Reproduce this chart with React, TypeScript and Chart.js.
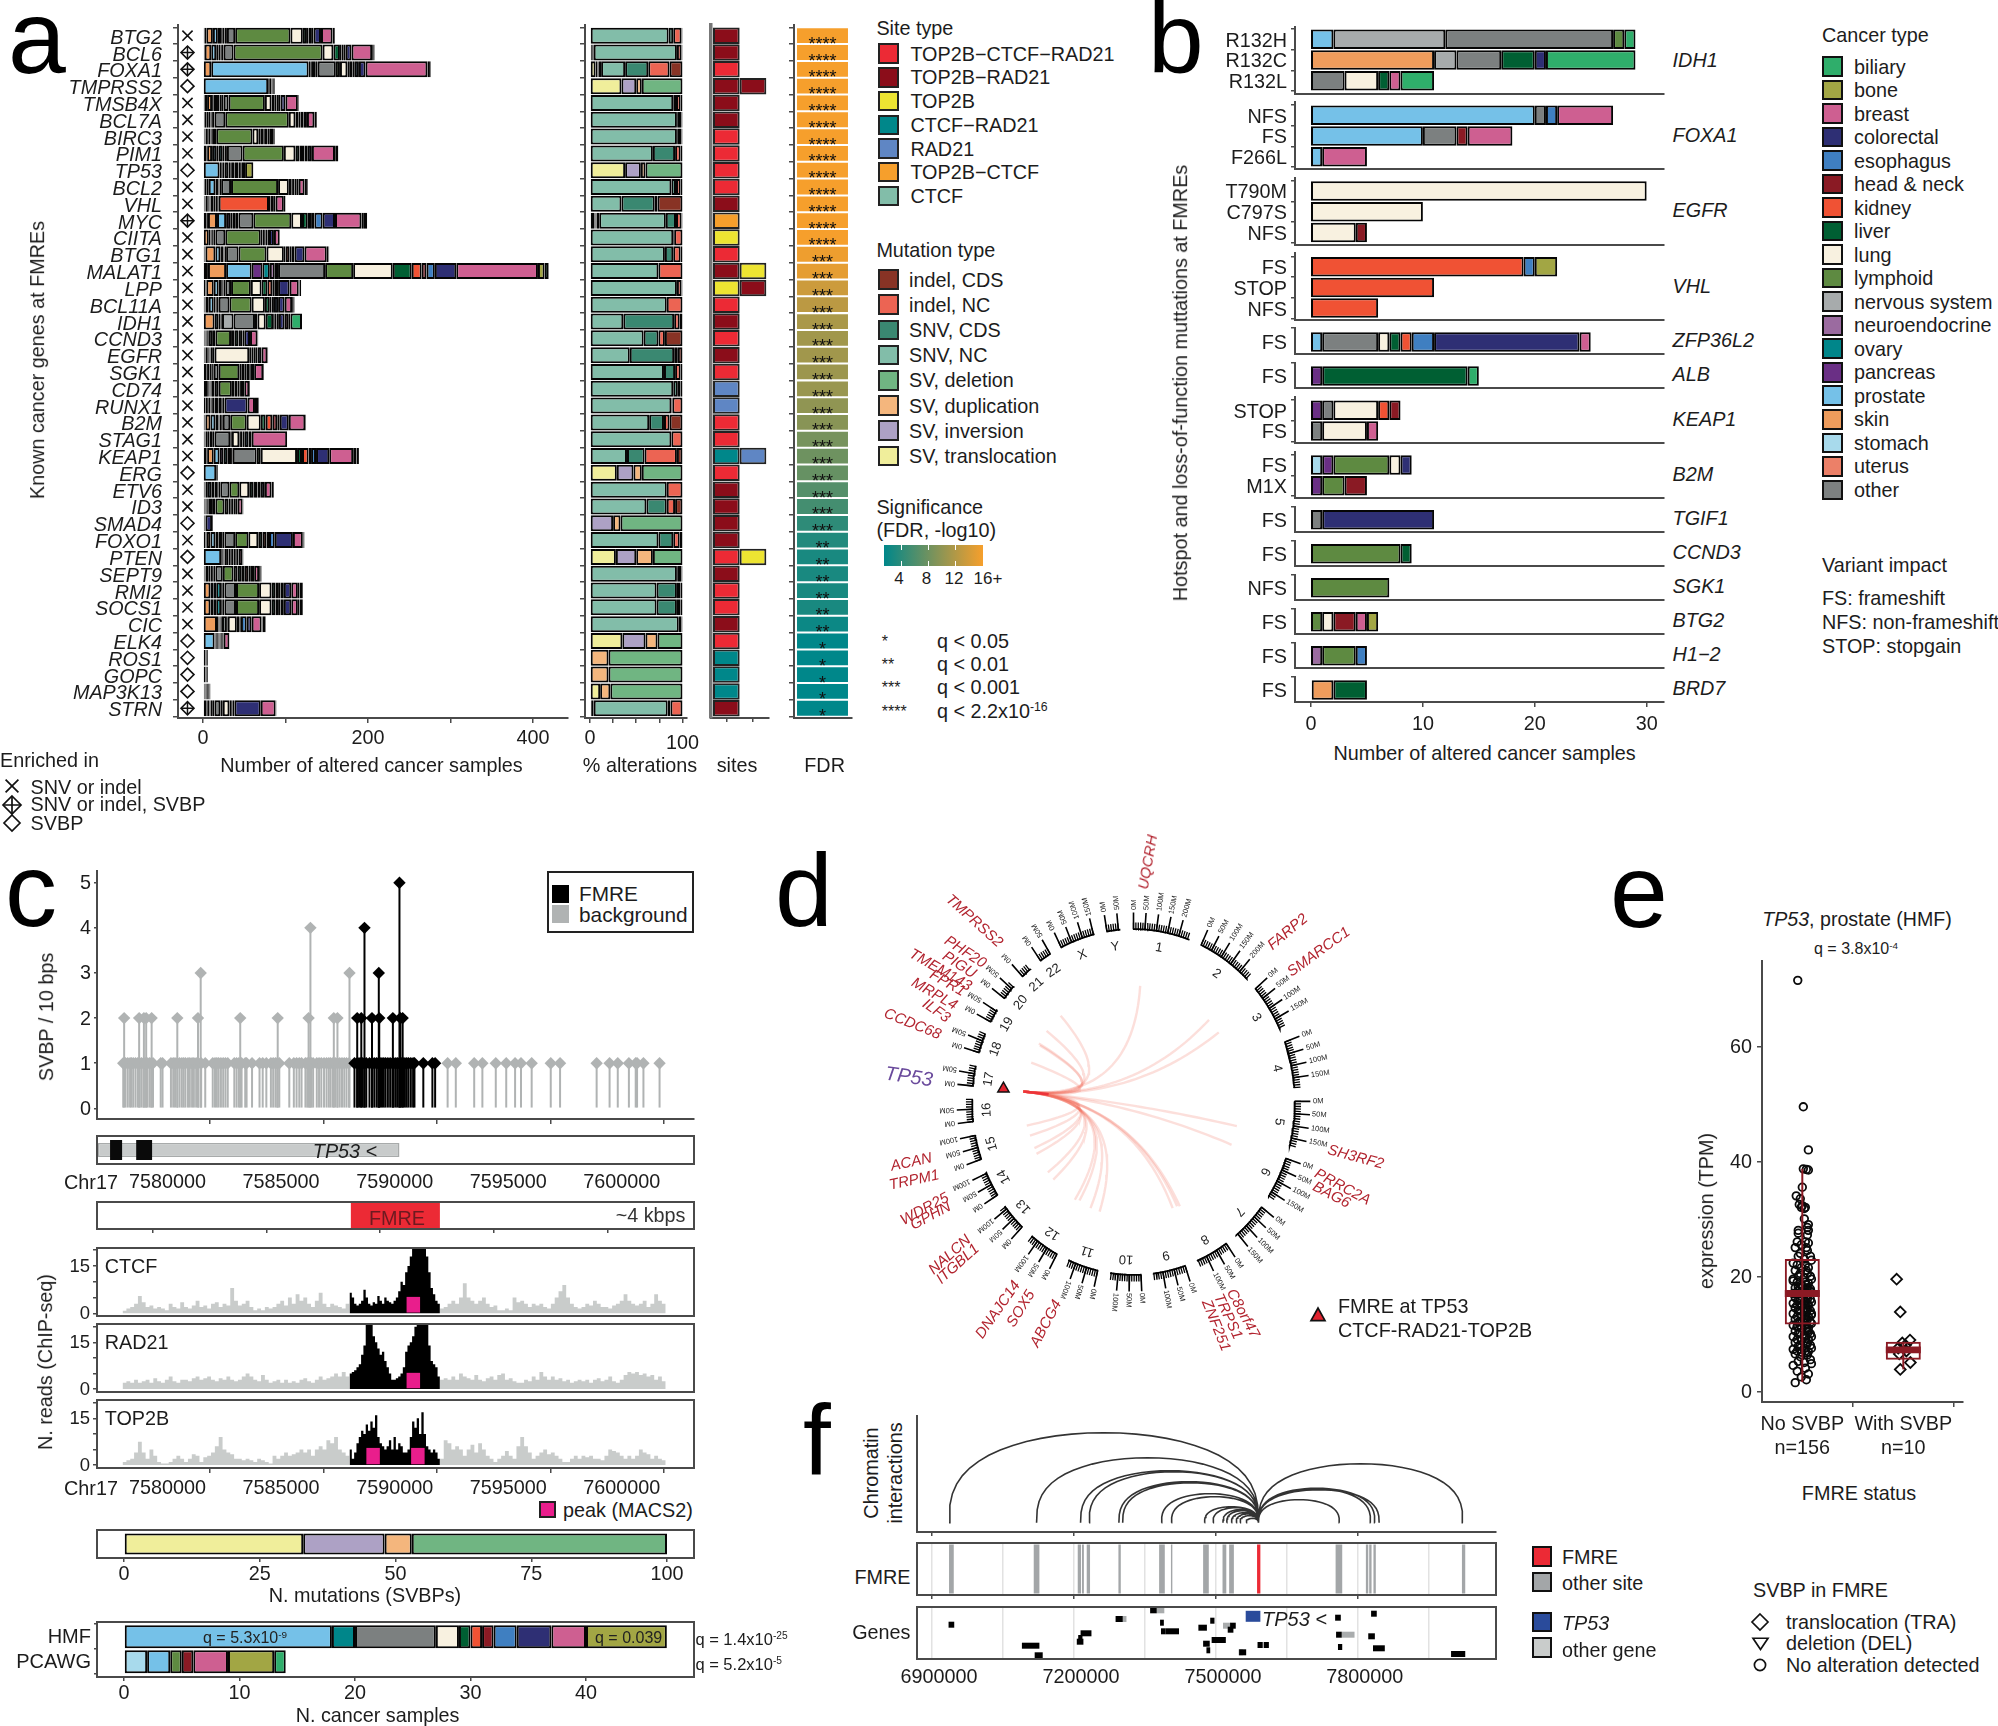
import React, { useEffect, useRef } from "react";
import { Chart, registerables } from "chart.js";
Chart.register(...registerables);

const FONT = "'Liberation Sans', Arial, sans-serif";
Chart.defaults.font.family = FONT;
const DARK = "#4a4a4a";
const INK = "#1c1c1c";

/* ---------- shared colours ---------- */
const cancerOrder = ["uterus","stomach","skin","prostate","pancreas","ovary","neuroendocrine","nervous system","other","lymphoid","lung","liver","kidney","head & neck","esophagus","colorectal","breast","bone","biliary"];
const cancerColor: Record<string,string> = {
  biliary:"#2FAE6B", bone:"#A2A644", breast:"#CE5F91", colorectal:"#2E2F74", esophagus:"#3F7FC1", "head & neck":"#8A1A24",
  kidney:"#F05234", liver:"#005F33", lung:"#F8F1E0", lymphoid:"#5E8A41", "nervous system":"#A7ABAC", neuroendocrine:"#9B6BA0",
  ovary:"#00868A", pancreas:"#6A2F85", prostate:"#75C1E8", skin:"#EE9C5C", stomach:"#A8DAEC", uterus:"#EC8068", other:"#7C8080",
};
const cancerLegend = ["biliary","bone","breast","colorectal","esophagus","head & neck","kidney","liver","lung","lymphoid","nervous system","neuroendocrine","ovary","pancreas","prostate","skin","stomach","uterus","other"];
const siteTypes = ["TOP2B−CTCF−RAD21","TOP2B−RAD21","TOP2B","CTCF−RAD21","RAD21","TOP2B−CTCF","CTCF"];
const siteColors = ["#EC2A35","#8B0D1A","#EDE432","#00878A","#5F86C4","#F69F2C","#82BDA9"];
const mutTypes = ["indel, CDS","indel, NC","SNV, CDS","SNV, NC","SV, deletion","SV, duplication","SV, inversion","SV, translocation"];
const mutColors = ["#883325","#EC6453","#3A8871","#82BDA9","#70B582","#F4B67D","#ADA1C5","#F0EE9B"];

/* ---------- panel a ---------- */
const genes = ["BTG2","BCL6","FOXA1","TMPRSS2","TMSB4X","BCL7A","BIRC3","PIM1","TP53","BCL2","VHL","MYC","CIITA","BTG1","MALAT1","LPP","BCL11A","IDH1","CCND3","EGFR","SGK1","CD74","RUNX1","B2M","STAG1","KEAP1","ERG","ETV6","ID3","SMAD4","FOXO1","PTEN","SEPT9","RMI2","SOCS1","CIC","ELK4","ROS1","GOPC","MAP3K13","STRN"];
const diamondGenes = ["TMPRSS2","TP53","ERG","SMAD4","PTEN","ELK4","ROS1","GOPC","MAP3K13"];
const bothGenes = ["BCL6","FOXA1","MYC","STRN"];
const alteredSamples = [
 [2,2,8,6,4,2,2,3,10,67,15,5,2,3,3,9,14,2,1],
 [1,1,8,6,3,2,1,3,12,108,13,8,2,2,3,7,25,2,1],
 [1,0,9,118,2,2,4,3,22,5,9,3,3,3,5,8,75,2,2],
 [0,0,0,79,0,0,0,0,2,2,1,0,0,0,1,1,1,0,0],
 [2,3,6,2,4,3,2,3,6,44,8,4,2,3,2,6,15,1,0],
 [1,1,2,3,2,1,1,3,13,77,8,4,2,2,2,4,9,2,1],
 [1,1,1,2,2,2,1,2,4,44,7,3,3,2,3,3,4,1,1],
 [4,1,6,5,3,5,2,3,19,50,14,5,3,3,4,5,28,1,3],
 [0,1,0,19,2,1,1,2,5,2,2,3,2,3,2,2,4,10,0],
 [2,2,3,8,2,2,1,2,12,57,13,3,2,2,2,3,7,3,1],
 [1,1,1,2,1,1,1,1,4,2,3,1,61,2,3,3,10,2,0],
 [4,2,11,11,5,3,3,4,18,46,13,7,4,4,10,15,32,3,4],
 [1,0,6,2,1,2,1,2,12,43,2,3,1,2,2,6,7,0,0],
 [2,1,12,6,2,2,1,2,15,34,21,2,5,2,4,12,27,2,1],
 [5,1,22,31,13,9,6,4,57,34,48,23,12,6,10,26,99,8,5],
 [3,1,9,6,3,2,1,2,7,24,13,7,6,3,4,14,11,1,2],
 [2,1,4,6,2,1,1,2,13,27,16,6,2,3,5,8,9,2,1],
 [1,0,13,5,2,1,1,14,26,3,10,9,2,2,3,7,5,2,14],
 [1,1,1,1,1,1,1,5,3,19,4,5,3,2,2,7,9,1,0],
 [1,1,1,2,1,1,1,1,3,2,42,3,2,3,2,5,7,1,0],
 [1,0,3,2,2,2,1,2,6,25,3,3,3,3,2,4,11,1,0],
 [1,0,4,2,1,1,1,4,5,16,3,2,2,2,2,4,6,1,0],
 [1,0,2,2,2,2,1,2,2,3,2,3,1,1,2,28,9,4,1],
 [2,1,6,6,4,1,2,2,9,20,17,6,8,6,3,11,20,1,0],
 [2,1,2,1,2,3,1,2,19,2,9,2,2,2,5,4,43,0,0],
 [4,1,8,7,5,5,4,2,29,5,44,6,8,3,6,16,29,4,3],
 [0,0,0,16,0,0,0,0,1,0,0,0,0,0,0,0,1,0,0],
 [2,1,2,5,4,4,1,2,11,12,12,5,2,3,4,5,8,2,1],
 [1,1,1,1,1,1,1,4,4,11,5,2,2,2,2,3,6,1,0],
 [0,0,0,0,1,0,0,0,1,0,0,0,0,0,1,8,1,0,0],
 [3,1,5,6,4,4,1,2,13,16,12,5,5,3,7,22,12,1,1],
 [0,1,0,21,1,1,1,1,3,2,2,2,2,2,2,2,5,1,0],
 [1,1,1,4,2,3,1,2,9,13,5,5,3,5,3,4,6,2,1],
 [1,0,8,4,3,6,2,2,14,28,15,5,3,3,4,9,8,2,4],
 [1,0,8,4,3,6,2,2,14,28,15,5,3,3,4,9,8,2,4],
 [0,0,17,2,1,1,1,1,6,1,11,3,1,1,7,6,12,1,4],
 [0,0,0,14,1,1,1,1,1,1,1,1,1,1,0,1,7,0,0],
 [3,0,0,0,0,0,0,0,1,0,1,0,0,0,0,0,1,0,0],
 [3,0,0,0,0,0,0,0,1,0,1,0,0,0,0,0,1,0,0],
 [0,0,1,1,0,0,0,1,1,1,1,0,0,1,0,1,1,0,0],
 [4,1,1,2,1,2,1,2,7,3,8,2,1,1,2,32,18,1,0],
];
const pctOrder = [7,6,5,4,3,2,1,0]; // stack order over mutTypes: translocation first
const pctAlterations = [ // translocation, inversion, duplication, deletion, SNV NC, SNV CDS, indel NC, indel CDS
 [0,0,0,0,85,5,9,1],[1,1,1,1,90,0,5,1],[6,2,1,3,26,25,23,14],[34,16,6,44,0,0,0,0],[0,0,0,0,90,3,5,2],[0,0,0,0,94,1,4,1],[0,0,0,0,94,1,4,1],[0,0,0,0,68,24,6,2],
 [38,17,5,40,0,0,0,0],[0,0,0,0,88,5,5,2],[0,0,0,0,34,36,3,27],[5,1,1,3,72,11,6,1],[0,0,0,0,90,1,9,0],[0,0,0,0,81,9,8,2],[0,0,0,0,74,0,26,0],[0,0,0,0,94,0,5,1],
 [0,0,0,0,83,0,17,0],[0,0,0,0,36,55,6,3],[0,0,0,0,58,16,7,19],[0,0,0,0,43,48,4,5],[0,0,0,0,80,12,6,2],[0,0,0,0,90,5,3,2],[0,0,0,0,88,1,11,0],[0,0,0,0,64,16,6,14],
 [0,0,0,0,88,0,12,0],[0,0,0,0,40,19,35,6],[29,18,9,44,0,0,0,0],[0,0,0,0,83,0,17,0],[0,0,0,0,61,22,9,8],[0,25,8,67,0,0,0,0],[0,0,0,0,74,16,7,3],[28,22,18,32,0,0,0,0],
 [0,0,0,0,94,1,4,1],[0,0,0,0,72,22,4,2],[0,0,0,0,72,22,4,2],[0,0,0,0,96,0,3,1],[35,25,13,27,0,0,0,0],[0,0,20,80,0,0,0,0],[0,0,20,80,0,0,0,0],[11,0,11,78,0,0,0,0],[1,1,2,0,80,3,13,0],
];
const firstSite = [1,1,0,1,1,1,0,0,0,0,1,5,2,0,1,2,0,1,0,1,0,4,4,0,0,3,0,1,1,1,1,0,1,0,0,1,0,3,3,3,1];
const secondSite: Record<number,number> = {3:1, 14:2, 15:1, 25:4, 31:2};
const fdrLog10 = [16,16,16,16,16,16,16,16,16,16,16,16,16,15.5,15,13.5,12.5,11.5,11,11,10.7,10.5,10,9.5,8.5,8,7.5,6.5,5.5,4.2,3.5,3,3,3,3,2.2,1.5,1.5,1.5,1.5,1.5];
const fdrStars = genes.map((_,i)=> i<13?"****": i<30?"***": i<36?"**":"*");

/* ---------- panel b ---------- */
type Row = [string, [string, number][]];
const bIDH1: Row[] = [["R132H",[["prostate",2],["nervous system",10],["other",15],["lymphoid",1],["biliary",1]]],["R132C",[["skin",11],["nervous system",2],["other",4],["liver",3],["colorectal",1],["biliary",8]]],["R132L",[["other",3],["lung",3],["liver",1],["breast",1],["biliary",3]]]];
const bFOXA1: Row[] = [["NFS",[["prostate",20],["other",1],["esophagus",1],["breast",5]]],["FS",[["prostate",10],["other",3],["head & neck",1],["breast",4]]],["F266L",[["prostate",1],["breast",4]]]];
const bEGFR: Row[] = [["T790M",[["lung",30]]],["C797S",[["lung",10]]],["NFS",[["lung",4],["head & neck",1]]]];
const bVHL: Row[] = [["FS",[["kidney",19],["esophagus",1],["bone",2]]],["STOP",[["kidney",11]]],["NFS",[["kidney",6]]]];
const bZFP: Row[] = [["FS",[["prostate",1],["other",5],["lung",1],["liver",1],["kidney",1],["esophagus",2],["colorectal",13],["breast",1]]]];
const bALB: Row[] = [["FS",[["pancreas",1],["liver",13],["biliary",1]]]];
const bKEAP1: Row[] = [["STOP",[["pancreas",1],["other",1],["lung",4],["kidney",1],["head & neck",1]]],["FS",[["other",1],["lung",4],["breast",1]]]];
const bB2M: Row[] = [["FS",[["stomach",1],["pancreas",1],["lymphoid",5],["lung",1],["colorectal",1]]],["M1X",[["pancreas",1],["lymphoid",2],["head & neck",2]]]];
const bTGIF1: Row[] = [["FS",[["other",1],["colorectal",10]]]];
const bCCND3: Row[] = [["FS",[["lymphoid",8],["liver",1]]]];
const bSGK1: Row[] = [["NFS",[["lymphoid",7]]]];
const bBTG2: Row[] = [["FS",[["lymphoid",1],["lung",1],["head & neck",2],["breast",1],["bone",1]]]];
const bH12: Row[] = [["FS",[["neuroendocrine",1],["lymphoid",3],["esophagus",1]]]];
const bBRD7: Row[] = [["FS",[["skin",2],["liver",3]]]];
const bFacetData = [bIDH1,bFOXA1,bEGFR,bVHL,bZFP,bALB,bKEAP1,bB2M,bTGIF1,bCCND3,bSGK1,bBTG2,bH12,bBRD7];
const bGeneNames = ["IDH1","FOXA1","EGFR","VHL","ZFP36L2","ALB","KEAP1","B2M","TGIF1","CCND3","SGK1","BTG2","H1−2","BRD7"];
// layout: plot top, plot bottom, first row centre, label centre
const bLayout = [[27,94,39.3,60],[102,169,115.3,134.7],[178,245,191,210],[253,320,266.7,286],[328,354,342,340],[363,388,376,374],[397,443,410.3,419],[452,498,465,474],[507,532,519.7,518.3],[541,566,553.7,552.3],[575,600,587.7,586.3],[609,634,621.7,620.3],[643,668,655.7,654.3],[677,702,690,688.3]];

/* ---------- panel c ---------- */
const gray1Kb = [-1.31,-1.21,-1.11,-1.01,-.95,-.87,-.77,-.67,-.59,-.51,-.42,-.34,-.26,-.16,-.08,0,.34,.42,.79,.89,.97,1.07,1.17,1.27,1.35,1.43,1.54,1.62,1.72,1.8,1.9,2,2.12,2.3,2.63,2.73,2.81,2.89,2.99,3.09,3.19,3.29,3.58,3.68,3.78,3.9,4.06,4.12,4.36,4.69,4.83,4.99,5.19,5.29,5.39,5.47,5.56,6,6.2,6.32,6.44,6.54,6.71,6.79,6.89,6.97,7.05,7.21,7.31,7.41,7.53,7.64,7.74,7.82,7.92,8.02,8.12,8.22,8.32,8.42,8.52,8.63,12.97,13.33,14.14,14.5,15.09,15.55,15.94,16.2,16.67,17.51,17.92,19.53,20.1,20.46,20.95,21.25,21.31,21.59,22.3];
const black1Kb = [8.87,8.99,9.07,9.15,9.23,9.31,9.39,9.53,9.64,9.74,9.84,9.92,10,10.08,10.16,10.24,10.34,10.44,10.54,10.6,10.69,10.77,10.85,10.93,11.01,11.09,11.17,11.25,11.35,11.45,11.51,11.9,12.3,12.42];
const gray2Kb = [-1.27,-.61,-.4,-.3,-.06,1.07,1.98,3.84,5.49,6.85,7.96,8.12];
const black2Kb = [8.99,9.17,9.64,9.96,10.56,10.89,10.99];
const gray3Kb = [2.1,8.65]; const black3Kb = [9.94];
const gray4Kb = [6.93]; const black4Kb = [9.31];
const black5Kb = [10.85];
const genomicTicks = [7580,7585,7590,7595,7600];
const tp53Body = [7577.57,7590.85];
const tp53Exons = [[7578.11,7578.64],[7579.26,7579.96]];
const fmreSpan = [7588.71,7592.63];
const ctcfLeft = [.8,1.5,2,3,5.5,3.5,2,2.5,1.5,2,1.5,1,3,2,1.5,3.5,2,1.5,2.5,4,2,2.5,1.5,3,3.5,2,3,2.5,8,4,2.5,3,4,2,1,1.5,1,2,1.5,2,3,4,2.5,5,3,6,4,5,3,2,4,6.5,3,2,3,2.5,2,1.5,3,2];
const ctcfPeak = [6.5,5,3,2.5,3,4,7.5,5,3,2.5,3.5,3,5.5,4,3,5,4,3.5,3,4,5,7,10,9,13,15,18,22,24,26,25,24,22,18,13,8,6,4,3,1.5];
const ctcfRight = [1.5,2,3,4,3,5,9.5,5,4,3,4,5,3,2,2.5,1,1,1.5,1,5,3.5,4,3,2,3,2.5,3,2,1.5,3,5,7,9,5,3,2,1.5,2,3,2.5,4,3,2,2,1.5,2.5,3,4,6,4,3,2.5,3,4,2,3,6,4,3,1];
const radLeft = [2,2.5,2,3,2,2.5,3,2,3.5,2.5,2,3,4,2.5,2,3,3,2.5,3.5,4,3,3.5,4,3,2.5,3.5,3,4,3,2.5,3,4,5,4,3,2.5,4.5,3,2,2.5,3,2,3,2,2.5,2,3,3.5,2.5,2,3,4,3,3.5,4,5,4,5.5,4,5];
const radPeak = [5,5.5,6,7,8,11,14,24,28,26,17,15,13,11,12,9,7,5,3,3,3.5,4,5,7,12,14,15,17,20,24,28,28,26,22,14,9,8,7,4,2];
const radRight = [3,3.5,3,4,3,5,4,3.5,3,4.5,3,2.5,3.5,4,3,4.5,5,3,3.5,2.5,2,2,3,2.5,4,3,5.5,4,3,4,3,3.5,2.5,3,2,2.5,3,2.5,3,2,3,3.5,2.5,3,4,2.5,2,3,4.5,5.5,5,5.5,4.5,5,4,4.5,3,4,2.5,1.5];
const topLeft = [1,1.5,2,4,7.5,4,2,5,3,1,.5,.5,1,2,3,2,1,2,3.5,3,1,2.5,3,4,6,9,5,4,3.5,2,2,1.5,2,1.5,1,2,1.5,1,.5,3,2,3,4,3,3.5,4,5,4,5,3,5,6,5,8,7,9,5,4,3,5];
const topPeak = [5,2,4,7,9,11,10,13,11,14,12,16,9,7,6,5,6,8,5,9,5,7,6,4,4,5,9,14,12,15,10,17,10,6,5,4,5,4,2,1];
const topRight = [2,8,7,5,6,5,3,5,6.5,4,7,5,3,2,1,2,3,4.5,3,2,6,9,6,4,2,3,4,5,3.5,4,3,2,1,1,2,3,2,3,2.5,3,2,2,1.5,3,5,4.5,4,3,2,3,2,3,5,4,3.5,2,3,2,1.5,1];
const ctcfPeaks = [7591.46]; const radPeaks = [7591.46]; const topPeaks = [7589.69,7591.66];
const peakHeight = [5.2,5.2,5.5];
const svbpKinds = ["SV, translocation","SV, inversion","SV, duplication","SV, deletion"];
const svbpCounts = [33,15,5,47];
const hmfTypes = ["prostate","ovary","other","lung","liver","kidney","head & neck","esophagus","colorectal","breast","bone"];
const hmfCounts = [18,2,7,2,1,1,1,2,3,3,7];
const pcawgTypes = ["stomach","prostate","lymphoid","head & neck","breast","bone","biliary"];
const pcawgCounts = [2,2,1,1,3,4,1];

/* ---------- panel d ---------- */
const chromNames = ["1","2","3","4","5","6","7","8","9","10","11","12","13","14","15","16","17","18","19","20","21","22","X","Y"];
const chromMb = [249,243,198,191,181,171,159,146,141,135,135,133,114,107,102,90,83,80,58,64,46,50,155,59];
const linkEndX = [.042,-.456,-.544,-.592,-.586,-.64,.473,.534,.647,.614,-.668,-.648,-.62,-.607,-.536,-.502,-.367,-.338,-.269,-.212,.245,.273,.29];
const linkEndY = [-.678,-.504,-.415,-.342,-.33,-.23,-.48,-.407,.141,.25,.138,.197,.269,.303,.411,.453,.571,.575,.62,.64,.62,.609,.609];
const dGenes: [string,number,number,number][] = [
 ["UQCRH",1146.7,861,-80],["FARP2",1286.7,930,-40],["SMARCC1",1318,950,-36],["SH3RF2",1356,1155,15],["PRRC2A",1343,1185,28],["BAG6",1332,1193,28],
 ["C8orf47",1244,1312,62],["TRPS1",1229,1315,65],["ZNF251",1217,1324,68],["ABCG4",1045,1322,-62],["SOX5",1020,1307,-58],["DNAJC14",997,1308,-55],
 ["NALCN",949,1253,-42],["ITGBL1",957,1262,-42],["WDR25",924,1207,-28],["GPHN",930,1214,-28],["TRPM1",914,1178,-12],["ACAN",911,1160,-12],
 ["CCDC68",913,1022,22],["ILF3",937,1009,35],["MRPL4",935,992,30],["FPR1",948,981,30],["TMEM143",941,968,30],["PIGU",960,963,33],["PHF20",966,950,33],["TMPRSS2",975,919,42],
];

/* ---------- panel e ---------- */
const noSvbp = [71.5,49.5,42,38.7,38.6,38.5,35.5,34,33.5,32.5,32.3,32,32,31.8,30,29,28.5,28,28,27.5,27.2,26,26,25.8,25.5,25,25,24.5,24,23.5,23.5,23,22.8,22.3,22,22,21.5,21.5,21,21,20.5,20.5,20,20,19.8,19.5,19.5,19,19,18.8,18.5,18.5,18,18,18,17.8,17.5,17.5,17.2,17,17,17,16.8,16.5,16.5,16.3,16,16,16,15.8,15.5,15.5,15.3,15,15,15,14.8,14.5,14.5,14.2,14,14,14,13.8,13.5,13.5,13.2,13,13,13,12.8,12.5,12.5,12.2,12,12,12,11.8,11.5,11.5,11.2,11,11,10.8,10.5,10.5,10.2,10,10,9.8,9.5,9.5,9.2,9,9,8.8,8.5,8.5,8.3,8,8,7.8,7.5,7.5,7.3,7,7,6.9,6.8,6.7,6.5,6.3,6,5.5,5.2,5,4.8,4.5,4,3.5,3,2.5,2,1.5,15.2,16.1,17.4,18.2,14.3,13.3,19.2,12.3,11.3,10.3];
const noSvbpHead = [-.045,.01,.06,.01,.04,.06,0,-.06,-.02,-.03,0,.03,-.01,.02,.02,.06,.05,-.04,.06,-.04,.05];
const swarmOffsets = [-.07,.05,-.02,.08,-.04,.02,.09,-.09,.03,-.05,.06,-.01,.04];
const withSvbp = [19.5,13.8,8.9,8.4,8,7.5,7,6.5,5,3.8];
const withSvbpX = [-.066,-.03,.066,-.01,.02,-.05,.03,-.04,.07,-.03];
const boxQ1 = [11.6,5.5]; const boxMedian = [17,7.2]; const boxQ3 = [23,8.6]; const whiskerLow = [1.6,3.8]; const whiskerHigh = [38.7,8.6];

/* ---------- panel f ---------- */
const loopAnchorKb = 7590;
const loopEndsKb = [6936,7121,7214,7232,7295,7303,7385,7406,7476,7494,7515,7523,7533,7543,7551,7564,7761,7827,7836,7845,8022];
const loopHeights = [90,65,52,51,41,40,29,26,16,15,13,12,10,8.7,7,4.3,23,34,34.5,33,59];
const otherSites = [[6936,6946],[7115,7127],[7208,7215],[7217,7221],[7227,7234],[7294,7299],[7380,7392],[7405,7408],[7473,7485],[7514,7522],[7528,7538],[7753,7767],[7817,7822],[7824,7829],[7833,7838],[8020,8027]];
const fmreSite = [7587,7594];
const geneStart = [6935,7090,7117,7206,7209,7214,7288,7361,7382,7384,7394,7463,7488,7473,7480,7491,7525,7530,7549,7588,7601,7752,7754,7758,7822,7828,7832,7997];
const geneEnd = [6947,7127,7134,7220,7218,7237,7303,7375,7390,7394,7422,7481,7497,7487,7488,7521,7537,7542,7564,7599,7612,7764,7766,7767,7836,7840,7857,8027];
const geneLane = [17.7,38.7,48.3,34.7,31,26.3,12,3.3,15.7,24.3,24.3,20.7,13.7,36.7,43.3,33,22.7,18.7,45.3,38,38,10.7,27.7,40,29.3,6.7,41.3,47];
const otherGeneStart = [7375,7297,7515,7548,7766];
const otherGeneEnd = [7391,7311,7531,7557,7793];
const otherGeneLane = [3.3,12,18.7,45.3,27.7];
const tp53Gene = [7563,7594]; const tp53Lane = 9.3;

/* ---------- helpers ---------- */
type Rect = [number,number,number,number];
const TS = 19.8;
const frame = (w=2,color=DARK)=>({id:"frame",afterDatasetsDraw(ch:any){const a=ch.chartArea,c=ch.ctx;c.save();c.strokeStyle=color;c.lineWidth=w;c.strokeRect(a.left,a.top,a.right-a.left,a.bottom-a.top);c.restore();}});

function scale(axis:"x"|"y", o:any){
  const {min,max,vals,label,tick=0,pad=3,size=TS,style="normal",margin=0,off=0,reverse=false,bw=2,bc=DARK,border=true,grid,tickColor}=o;
  return {
    type:"linear",offset:false,min,max,reverse,display:true,
    grid:{display:true,drawOnChartArea:!!grid,color:grid||"transparent",lineWidth:1.5,drawTicks:tick>0,tickLength:tick,tickColor:tickColor||DARK,tickWidth:1.5},
    border:{display:border,color:bc,width:bw},
    ticks:{display:!!label,autoSkip:false,maxRotation:0,minRotation:0,padding:axis==="x"?pad+1:pad,labelOffset:off,color:INK,font:{size,style,family:FONT},callback:label||(()=>"")},
    afterBuildTicks:(s:any)=>{s.ticks=(vals||[]).map((value:number)=>({value}));},
    afterFit:(s:any)=>{
      if(axis==="x")s.height=margin;else s.width=margin;
      s.paddingLeft=0;s.paddingRight=0;s.paddingTop=0;s.paddingBottom=0;
    },
  };
}
function Plot({rect,m,datasets,x,y,plugins=[]}:{rect:Rect,m:number[],datasets:any[],x:any,y:any,plugins?:any[]}){
  const ref=useRef<HTMLCanvasElement>(null);
  const [l,t,r,b]=rect,[ml,mr,mt,mb]=m;
  const W=r-l+ml+mr,H=b-t+mt+mb;
  useEffect(()=>{
    const ch=new Chart(ref.current as any,{type:"scatter",data:{datasets},plugins,options:{
      responsive:false,animation:false,devicePixelRatio:1,
      layout:{autoPadding:false,padding:{left:0,right:mr,top:mt,bottom:0}},
      plugins:{legend:{display:false},tooltip:{enabled:false}},
      events:[],
      scales:{x:scale("x",{...x,margin:mb}),y:scale("y",{...y,margin:ml})},
    }} as any);
    return ()=>ch.destroy();
  },[]);
  return <canvas ref={ref} width={W} height={H} style={{position:"absolute",left:l-ml,top:t-mt,width:W,height:H}}/>;
}
function Tx({x,y,a="l",s=TS,c=INK,i=false,rot=0,children}:any){
  const tx=a==="l"?"0":a==="c"?"-50%":"-100%";
  return <span style={{position:"absolute",left:x,top:y+1,transform:`translate(${tx},-50%) rotate(${rot}deg)`,fontSize:s,lineHeight:1,color:c,fontStyle:i?"italic":"normal",whiteSpace:"nowrap"}}>{children}</span>;
}
const Sq=({x0,y0,x1,y1,c,b="#222",bw=2}:any)=><div style={{position:"absolute",left:x0,top:y0,width:x1-x0,height:y1-y0,background:c,border:b?`${bw}px solid ${b}`:"none",boxSizing:"border-box"}}/>;
const Sup=({children}:any)=><sup style={{fontSize:"0.62em",lineHeight:0,verticalAlign:"0.55em"}}>{children}</sup>;
const Mark=({x,y,kind,r=8}:any)=>(
  <svg style={{position:"absolute",left:x-r-2,top:y-r-2}} width={2*r+4} height={2*r+4} viewBox={`${-r-2} ${-r-2} ${2*r+4} ${2*r+4}`} fill="none" stroke="#111" strokeWidth={1.7}>
    {kind==="x"&&<path d={`M${-r*.8} ${-r*.8}L${r*.8} ${r*.8}M${r*.8} ${-r*.8}L${-r*.8} ${r*.8}`}/>}
    {(kind==="d"||kind==="dp")&&<path d={`M0 ${-r}L${r} 0L0 ${r}L${-r} 0Z`}/>}
    {kind==="dp"&&<path d={`M0 ${-r}L0 ${r}M${-r} 0L${r} 0`}/>}
    {kind==="v"&&<path d={`M${-r} ${-r*.7}L${r} ${-r*.7}L0 ${r*.8}Z`}/>}
    {kind==="o"&&<circle r={r*.7}/>}
    {kind==="t"&&<path d={`M${-r} ${r*.8}L${r} ${r*.8}L0 ${-r}Z`} fill="#E1232F" stroke="#111"/>}
  </svg>
);
const Letter=({x,y,s,ch}:any)=><span style={{position:"absolute",left:x,top:y-.8465*s,fontSize:s,lineHeight:1,color:"#000"}}>{ch}</span>;

const hbar=(data:any[],color:string,thick:number,extra:any={})=>({type:"bar",indexAxis:"y",stack:"s",data,backgroundColor:color,borderColor:"#050505",borderWidth:2,borderSkipped:false,barThickness:thick,inflateAmount:0,...extra});
const floatH=(data:any[],color:string,thick:number,extra:any={})=>({type:"bar",indexAxis:"y",grouped:false,data,backgroundColor:color,borderWidth:0,barThickness:thick,inflateAmount:0,...extra});
const stems=(data:any[],color:string)=>({type:"bar",grouped:false,data,backgroundColor:color,borderWidth:0,barThickness:2,inflateAmount:0});
const dots=(data:any[],color:string,r=6.2)=>({type:"scatter",data,pointStyle:"rectRot",pointRadius:r,pointBackgroundColor:color,pointBorderColor:color,pointBorderWidth:0});
const lol=(a:number[],y:number)=>a.map(v=>({x:7580+v,y}));
const rowsIdx=genes.map((_,i)=>i);

/* ---------- panels ---------- */
const A_Y={min:-.636,max:40.58,vals:rowsIdx,reverse:true};
function PanelA(){
  const bars=cancerOrder.map((n,s)=>hbar(alteredSamples.map((r,i)=>({x:r[s],y:i})).filter(p=>p.x>0),cancerColor[n],16));
  const pt=(names:string[],yes:boolean)=>genes.map((g,i)=>({g,i})).filter(o=>names.includes(o.g)===yes).map(o=>({x:-18.8,y:o.i}));
  const syms=[
    {type:"scatter",data:pt(bothGenes,true),pointStyle:"cross",pointRadius:6,pointBorderColor:"#111",pointBorderWidth:1.5},
    {type:"scatter",data:pt([...bothGenes,...diamondGenes],true),pointStyle:"rectRot",pointRadius:6.5,pointBackgroundColor:"#fff",pointBorderColor:"#111",pointBorderWidth:1.6},
    {type:"scatter",data:pt([...bothGenes,...diamondGenes],false),pointStyle:"crossRot",pointRadius:7.2,pointBorderColor:"#111",pointBorderWidth:1.6},
  ];
  const pctSets=pctOrder.map((m,s)=>hbar(pctAlterations.map((r,i)=>({x:r[s],y:i})).filter(p=>p.x>0),mutColors[m],16));
  const site1=hbar(firstSite.map((k,i)=>({x:1,y:i})),"#000",16.5,{backgroundColor:firstSite.map(k=>siteColors[k]),borderColor:"#222"});
  const keys=Object.keys(secondSite).map(Number);
  const site2=hbar(keys.map(i=>({x:1,y:i})),"#000",16.5,{backgroundColor:keys.map(i=>siteColors[secondSite[i]]),borderColor:"#222"});
  const lerp=(a:number,b:number,t:number)=>Math.round(a+(b-a)*t);
  const fdrColor=fdrLog10.map(v=>{const t=(Math.min(v,16)-1.5)/14.5;return `rgb(${lerp(0,246,t)},${lerp(135,159,t)},${lerp(138,44,t)})`;});
  const fdr=hbar(fdrLog10.map((_,i)=>({x:1,y:i})),"#000",16.8,{backgroundColor:fdrColor,borderColor:"#fff",borderWidth:1});
  const starPlugin={id:"stars",afterDatasetsDraw(ch:any){const c=ch.ctx;c.save();c.font=`18px ${FONT}`;c.fillStyle="#111";c.textAlign="center";c.textBaseline="alphabetic";fdrStars.forEach((s,i)=>c.fillText(s,ch.scales.x.getPixelForValue(.5),ch.scales.y.getPixelForValue(i)+14));c.restore();}};
  return <>
    <Letter x={8} y={73} s={104} ch="a"/>
    <Plot rect={[178,25,568,718]} m={[178,2,2,44]} datasets={[...syms,...bars]}
      x={{min:-30.3,max:442.4,vals:[0,100,200,300,400],tick:5,pad:3,label:(v:number)=>v%200===0?String(v):""}}
      y={{...A_Y,tick:5,pad:11,size:TS,style:"italic",off:2.5,label:(v:number)=>genes[v]}}/>
    <Tx x={38} y={359} a="c" rot={-90}>Known cancer genes at FMREs</Tx>
    <Tx x={371.5} y={765} a="c">Number of altered cancer samples</Tx>
    <Plot rect={[585,25,687,718]} m={[8,2,2,44]} datasets={pctSets}
      x={{min:-5.4,max:104.9,vals:[0,25,50,75,100],tick:5,pad:3,label:(v:number)=>v===0?"0":""}}
      y={{...A_Y,tick:5}}/>
    <Tx x={682.5} y={741.7} a="c">100</Tx>
    <Tx x={640} y={765} a="c">% alterations</Tx>
    <Plot rect={[711,25,769,718]} m={[2,2,2,12]} datasets={[site1,site2]}
      x={{min:-.075,max:2.1,vals:[.5,1.5],tick:4}}
      y={{...A_Y,bw:3.5,bc:"#777",vals:[]}}/>
    <Tx x={737} y={765} a="c">sites</Tx>
    <Plot rect={[794,25,852,718]} m={[8,2,2,4]} datasets={[fdr]} plugins={[starPlugin]}
      x={{min:-.038,max:1.057,vals:[]}}
      y={{...A_Y,tick:5}}/>
    <Tx x={824.6} y={765} a="c">FDR</Tx>

    <Tx x={0} y={760}>Enriched in</Tx>
    <Mark x={11.5} y={786} kind="x" r={8}/><Tx x={30.6} y={786.7}>SNV or indel</Tx>
    <Mark x={11.5} y={804.5} kind="dp" r={9}/><Tx x={30.6} y={804.3}>SNV or indel, SVBP</Tx>
    <Mark x={11.5} y={823} kind="d" r={8}/><Tx x={30.6} y={823.3}>SVBP</Tx>

    <Tx x={876.4} y={28.3}>Site type</Tx>
    {siteTypes.map((n,i)=>{const c=53.7+i*23.7;return <React.Fragment key={n}><Sq x0={878} y0={c-10.3} x1={898.6} y1={c+10.3} c={siteColors[i]}/><Tx x={910.4} y={c}>{n}</Tx></React.Fragment>;})}
    <Tx x={876.4} y={250}>Mutation type</Tx>
    {mutTypes.map((n,i)=>{const c=279.5+i*25.2;return <React.Fragment key={n}><Sq x0={878} y0={c-10.3} x1={898.6} y1={c+10.3} c={mutColors[i]}/><Tx x={909} y={c}>{n}</Tx></React.Fragment>;})}
    <Tx x={876.4} y={506.7}>Significance</Tx>
    <Tx x={876.4} y={530}>(FDR, -log10)</Tx>
    <div style={{position:"absolute",left:884,top:545,width:98.5,height:21,background:"linear-gradient(90deg,#00878A,#F69F2C)"}}/>
    {[901,928,955].map(v=><div key={v} style={{position:"absolute",left:v,top:545,width:1,height:21,backgroundImage:"linear-gradient(#fff 25%,transparent 25%,transparent 75%,#fff 75%)"}}/>)}
    <Tx x={899} y={577} a="c" s={17}>4</Tx><Tx x={926.4} y={577} a="c" s={17}>8</Tx><Tx x={954} y={577} a="c" s={17}>12</Tx><Tx x={988} y={577} a="c" s={17}>16+</Tx>
    {["*","**","***","****"].map((st,i)=><Tx key={st} x={881.8} y={[641,664,687,711][i]} s={16}>{st}</Tx>)}
    <Tx x={937} y={640.7}>q {"<"} 0.05</Tx><Tx x={937} y={664}>q {"<"} 0.01</Tx><Tx x={937} y={687.3}>q {"<"} 0.001</Tx>
    <Tx x={937} y={711.3}>q {"<"} 2.2x10<Sup>-16</Sup></Tx>
  </>;
}

function PanelB(){
  return <>
    <Letter x={1148} y={73} s={100} ch="b"/>
    {bFacetData.map((rows,f)=>{
      const [t,b,r0,lab]=bLayout[f]; const sp=20.7; const last=f===bFacetData.length-1;
      const sets:any[]=[];
      rows.forEach((row,ri)=>row[1].forEach(([k,n])=>sets.push(hbar([{x:n,y:ri}],cancerColor[k],19.5))));
      return <React.Fragment key={f}>
        <Plot rect={[1295,t,1664,b]} m={[110,2,2,last?40:3]} datasets={sets}
          x={{min:-1.43,max:31.55,vals:last?[0,10,20,30]:[],tick:last?5:0,pad:5,label:last?((v:number)=>String(v)):undefined}}
          y={{min:(t-r0)/sp,max:(b-r0)/sp,reverse:true,vals:rows.map((_,i)=>i),tick:4,pad:4,off:2,label:(v:number)=>rows[v]?rows[v][0]:""}}/>
        <Tx x={1672.6} y={lab} i>{bGeneNames[f]}</Tx>
      </React.Fragment>;
    })}
    <Tx x={1181} y={382} a="c" rot={-90}>Hotspot and loss-of-function muttations at FMREs</Tx>
    <Tx x={1484.6} y={753} a="c">Number of altered cancer samples</Tx>
    <Tx x={1822} y={35}>Cancer type</Tx>
    {cancerLegend.map((n,i)=>{const c=66.5+i*23.52;return <React.Fragment key={n}><Sq x0={1822} y0={c-10.3} x1={1842.6} y1={c+10.3} c={cancerColor[n]} b="#111"/><Tx x={1854} y={c}>{n}</Tx></React.Fragment>;})}
    <Tx x={1822} y={565}>Variant impact</Tx>
    <Tx x={1822} y={598.3}>FS: frameshift</Tx>
    <Tx x={1822} y={621.7}>NFS: non-frameshift</Tx>
    <Tx x={1822} y={645.7}>STOP: stopgain</Tx>
  </>;
}

const GRAY="#B0B3B3", TRACK="#C9CCCB";
const spread=(vals:number[],a:number,b:number)=>vals.map((y,i)=>({x:a+i*(b-a)/(vals.length-1),y}));
const area=(data:any[],color:string)=>({type:"line",data,stepped:true,fill:"origin",backgroundColor:color,borderWidth:0,pointRadius:0});
const kbLabel=(v:number)=>String(v*1000);
function Chip({rect,yMin,yMax,left,peak,right,peaks,h,labeled}:any){
  const pink={type:"bar",grouped:false,data:peaks.map((x:number)=>({x,y:h})),backgroundColor:"#E91E8C",borderWidth:0,barThickness:13.5,inflateAmount:0};
  return <Plot rect={rect} m={[60,2,2,labeled?30:4]} plugins={[frame()]}
    datasets={[pink,area(spread(peak,7588.65,7592.63),"#000"),area(spread(left,7578.66,7588.65),TRACK),area(spread(right,7592.63,7602.57),TRACK)]}
    x={{min:7577.535,max:7603.816,vals:labeled?genomicTicks:[],tick:labeled?5:0,pad:3,off:14.5,label:labeled?kbLabel:undefined}}
    y={{min:yMin,max:yMax,vals:[0,5,10,15,20],tick:4,pad:3,size:18.5,off:1,label:(v:number)=>v===0||v===15?String(v):""}}/>;
}
function PanelC(){
  const lolliSets=[
    dots(lol(black5Kb,5),"#000"),dots(lol(black4Kb,4),"#000"),dots(lol(black3Kb,3),"#000"),dots(lol(black2Kb,2),"#000"),dots(lol(black1Kb,1),"#000"),
    stems([...lol(black5Kb,5),...lol(black4Kb,4),...lol(black3Kb,3),...lol(black2Kb,2),...lol(black1Kb,1)],"#000"),
    dots(lol(gray4Kb,4),GRAY),dots(lol(gray3Kb,3),GRAY),dots(lol(gray2Kb,2),GRAY),dots(lol(gray1Kb,1),GRAY),
    stems([...lol(gray4Kb,4),...lol(gray3Kb,3),...lol(gray2Kb,2),...lol(gray1Kb,1)],GRAY),
  ];
  const gX={min:7577.535,max:7603.816};
  const gene=[floatH(tp53Exons.map(e=>({x:e,y:0})),"#0a0a0a",20),floatH([{x:tp53Body,y:0}],"#C8CBCB",14,{borderWidth:1.5,borderColor:"#a8abab",borderSkipped:false})];
  const svbp=svbpKinds.map((k,i)=>hbar([{x:svbpCounts[i],y:0}],mutColors[mutTypes.indexOf(k)],21));
  const cohort=[...hmfTypes.map((k,i)=>hbar([{x:hmfCounts[i],y:0}],cancerColor[k],23)),...pcawgTypes.map((k,i)=>hbar([{x:pcawgCounts[i],y:1}],cancerColor[k],23))];
  const cohortNames=["HMF","PCAWG"];
  return <>
    <Letter x={5} y={926} s={104} ch="c"/>
    <Plot rect={[97,871,694,1119]} m={[60,2,2,8]} datasets={lolliSets}
      x={{...gX,vals:genomicTicks,tick:5}}
      y={{min:-.237,max:5.26,vals:[0,1,2,3,4,5],tick:3,pad:3,off:1,label:(v:number)=>String(v)}}/>
    <Tx x={46.8} y={1015.7} a="c" rot={-90}>SVBP / 10 bps</Tx>
    <div style={{position:"absolute",left:547,top:871,width:147,height:62,border:`2px solid #222`,boxSizing:"border-box",background:"#fff"}}/>
    <Sq x0={552} y0={885} x1={569} y1={903} c="#000" b={null}/><Sq x0={552} y0={905} x1={569} y1={923} c={GRAY} b={null}/>
    <Tx x={579} y={893} s={20.8}>FMRE</Tx><Tx x={579} y={914} s={20.8}>background</Tx>

    <Plot rect={[97,1136,694,1164]} m={[2,2,2,36]} plugins={[frame()]} datasets={gene}
      x={{...gX,vals:genomicTicks,tick:0,pad:6,off:14.5,label:kbLabel}}
      y={{min:-1,max:1,vals:[]}}/>
    <Tx x={345} y={1151} a="c" i>TP53 {"<"}</Tx>
    <Tx x={91} y={1181.7} a="c">Chr17</Tx>
    <Plot rect={[97,1202,694,1229]} m={[2,2,2,8]} plugins={[frame()]} datasets={[floatH([{x:fmreSpan,y:0}],"#EC2A35",26)]}
      x={{...gX,vals:genomicTicks,tick:4}} y={{min:-1,max:1,vals:[]}}/>
    <Tx x={397} y={1218} a="c" c="#6e1a20">FMRE</Tx>
    <Tx x={685.5} y={1215} a="r" c="#333">~4 kbps</Tx>

    <Chip rect={[97,1248,694,1316]} yMin={-.857} yMax={20.7} left={ctcfLeft} peak={ctcfPeak} right={ctcfRight} peaks={ctcfPeaks} h={peakHeight[0]}/>
    <Tx x={104.7} y={1266}>CTCF</Tx>
    <Chip rect={[97,1324,694,1392]} yMin={-.96} yMax={20.9} left={radLeft} peak={radPeak} right={radRight} peaks={radPeaks} h={peakHeight[1]}/>
    <Tx x={104.7} y={1342}>RAD21</Tx>
    <Chip rect={[97,1400,694,1468]} yMin={-.96} yMax={20.9} left={topLeft} peak={topPeak} right={topRight} peaks={topPeaks} h={peakHeight[2]} labeled/>
    <Tx x={104.7} y={1418}>TOP2B</Tx>
    <Tx x={46} y={1361} a="c" rot={-90}>N. reads (ChIP-seq)</Tx>
    <Tx x={91} y={1487.7} a="c">Chr17</Tx>
    <Sq x0={539} y0={1500.7} x1={556} y1={1518} c="#E91E8C"/>
    <Tx x={563} y={1510}>peak (MACS2)</Tx>

    <Plot rect={[97,1530,694,1558]} m={[2,2,2,30]} plugins={[frame()]} datasets={svbp}
      x={{min:-4.97,max:104.97,vals:[0,25,50,75,100],tick:4,pad:0,label:(v:number)=>String(v)}} y={{min:-1,max:1,vals:[]}}/>
    <Tx x={365} y={1595} a="c">N. mutations (SVBPs)</Tx>
    <Plot rect={[97,1622,694,1677]} m={[90,2,2,30]} plugins={[frame()]} datasets={cohort}
      x={{min:-2.34,max:49.35,vals:[0,10,20,30,40],tick:4,pad:0,label:(v:number)=>String(v)}}
      y={{min:-.588,max:1.612,reverse:true,vals:[0,1],tick:3,pad:3,size:20,off:1,label:(v:number)=>cohortNames[v]}}/>
    <Tx x={245} y={1637} a="c" s={16} c="#222">q = 5.3x10<Sup>-9</Sup></Tx>
    <Tx x={628.6} y={1637} a="c" s={16} c="#222">q = 0.039</Tx>
    <Tx x={695.4} y={1638} s={16.5}>q = 1.4x10<Sup>-25</Sup></Tx>
    <Tx x={695.4} y={1663} s={16.5}>q = 5.2x10<Sup>-5</Sup></Tx>
    <Tx x={377.6} y={1715} a="c">N. cancer samples</Tx>
  </>;
}

const DEG_MB=.0815, GAP=4.5, CX=1133.5, CY=1101.5, RX=163, RY=174.5;
const chromStart=chromMb.map((_,i)=>chromMb.slice(0,i).reduce((a,b)=>a+b*DEG_MB+GAP,0));
const polar=(deg:number,r:number)=>({x:r*Math.sin(deg*Math.PI/180),y:-r*Math.cos(deg*Math.PI/180)});
const gapPt={x:NaN,y:NaN};
function PanelD(){
  const arc:any[]=[],minor:any[]=[],major:any[]=[];
  const tickTexts:any[]=[],nameTexts:any[]=[];
  chromMb.forEach((len,c)=>{
    const s=chromStart[c];
    for(let m=0;m<=len;m+=5)arc.push(polar(s+m*DEG_MB,.99));
    arc.push(polar(s+len*DEG_MB,.99),gapPt);
    for(let m=0;m<=len;m+=10)minor.push(polar(s+m*DEG_MB,.985),polar(s+m*DEG_MB,1.028),gapPt);
    for(let m=0;m<=len;m+=50){
      const d=s+m*DEG_MB; major.push(polar(d,.99),polar(d,1.085),gapPt);
      const p=polar(d,1.1);
      tickTexts.push(<span key={`${c}-${m}`} style={{position:"absolute",left:CX+RX*p.x,top:CY+RY*p.y,fontSize:7.5,lineHeight:1,color:"#222",whiteSpace:"nowrap",transformOrigin:"0 50%",transform:`translateY(-50%) rotate(${d-90}deg)`}}>{m}M</span>);
    }
    const md=s+len*DEG_MB/2, q=polar(md,.905);
    nameTexts.push(<Tx key={c} x={CX+RX*q.x} y={CY+RY*q.y} a="c" s={13} rot={md}>{chromNames[c]}</Tx>);
  });
  const line=(data:any[],w:number,color="#000")=>({type:"scatter",showLine:true,data,borderColor:color,borderWidth:w,pointRadius:0,tension:0});
  // circos ribbons: quadratic curves pulled through the circle's centre
  const bez=(p0:any,p2:any,tEnd=1)=>{const o:any[]=[];for(let t=0;t<=tEnd+.0001;t+=.03){const u=1-t;o.push({x:u*u*p0.x+t*t*p2.x,y:u*u*p0.y+t*t*p2.y});}return o;};
  const origin={x:-.676,y:-.06};
  const links=linkEndX.map((x,i)=>line(bez(origin,{x,y:linkEndY[i]}),2.4,"rgba(243,110,90,.22)"));
  const stub=line(bez(origin,{x:.2,y:.2},.12),2.6,"rgba(236,42,53,.85)");
  const tri={type:"scatter",data:[{x:-.798,y:-.076}],pointStyle:"triangle",pointRadius:6.5,pointBackgroundColor:"#E1232F",pointBorderColor:"#111",pointBorderWidth:1.5};
  const datasets=[tri,line(major,1.6),line(minor,1.3),line(arc,1.8),stub,...links];
  return <>
    <Letter x={775} y={926} s={104} ch="d"/>
    <DPlot datasets={datasets}/>
    {tickTexts}{nameTexts}
    {dGenes.map(([n,x,y,r])=><Tx key={n} x={x} y={y} a="c" s={15} c="#B2242F" i rot={r}>{n}</Tx>)}
    <Tx x={909} y={1074.5} a="c" s={20} c="#6A4A9C" i rot={8}>TP53</Tx>
    <Mark x={1317.5} y={1314.5} kind="t" r={7}/>
    <Tx x={1338} y={1306}>FMRE at TP53</Tx>
    <Tx x={1338} y={1330.4}>CTCF-RAD21-TOP2B</Tx>
  </>;
}
function DPlot({datasets}:any){
  const ref=useRef<HTMLCanvasElement>(null);
  const W=489,H=524;
  useEffect(()=>{
    const ch=new Chart(ref.current as any,{type:"scatter",data:{datasets},options:{responsive:false,animation:false,devicePixelRatio:1,events:[],
      layout:{autoPadding:false,padding:0},
      plugins:{legend:{display:false},tooltip:{enabled:false}},
      scales:{x:{type:"linear",display:false,min:-1.5,max:1.5},y:{type:"linear",display:false,min:-1.5,max:1.5,reverse:true}}}} as any);
    return ()=>ch.destroy();
  },[]);
  return <canvas ref={ref} width={W} height={H} style={{position:"absolute",left:CX-W/2,top:CY-H/2,width:W,height:H}}/>;
}

function PanelE(){
  const offs=noSvbp.map((_,i)=>i<noSvbpHead.length?noSvbpHead[i]:swarmOffsets[i%swarmOffsets.length]);
  const red="#8B1A24";
  const vb=(data:any[],thick:number,extra:any={})=>({type:"bar",grouped:false,data,barThickness:thick,inflateAmount:0,borderSkipped:false,...extra});
  const xs=[0,1];
  const sets=[
    vb(xs.map(i=>({x:i,y:[boxMedian[i]-.6,boxMedian[i]+.6]})),35,{backgroundColor:red,borderWidth:0}),
    vb(xs.map(i=>({x:i,y:[boxQ1[i],boxQ3[i]]})),35,{backgroundColor:"transparent",borderColor:red,borderWidth:2}),
    vb(xs.map(i=>({x:i,y:[whiskerLow[i],whiskerHigh[i]]})),2,{backgroundColor:red,borderWidth:0}),
    {type:"scatter",data:noSvbp.map((y,i)=>({x:offs[i],y})),pointStyle:"circle",pointRadius:3.8,pointBackgroundColor:"transparent",pointBorderColor:"#0a0a0a",pointBorderWidth:1.8},
    {type:"scatter",data:withSvbp.map((y,i)=>({x:1+withSvbpX[i],y})),pointStyle:"rectRot",pointRadius:5.4,pointBackgroundColor:"transparent",pointBorderColor:"#0a0a0a",pointBorderWidth:1.8},
  ];
  const xl=[["No SVBP","n=156"],["With SVBP","n=10"]];
  return <>
    <Letter x={1610} y={927} s={104} ch="e"/>
    <Plot rect={[1762,961,1963,1402]} m={[60,2,2,70]} datasets={sets}
      x={{min:-.399,max:1.591,vals:[0,1],tick:5,pad:5,label:(v:number)=>xl[v]}}
      y={{min:-1.87,max:74.87,vals:[0,20,40,60],tick:5,pad:5,off:1,label:(v:number)=>String(v)}}/>
    <Tx x={1857} y={919.4} a="c" s={19.6}><i>TP53</i>, prostate (HMF)</Tx>
    <Tx x={1856} y={947.5} a="c" s={16}>q = 3.8x10<Sup>-4</Sup></Tx>
    <Tx x={1707} y={1210} a="c" rot={-90}>expression (TPM)</Tx>
    <Tx x={1859} y={1493} a="c">FMRE status</Tx>
    <Tx x={1753} y={1590}>SVBP in FMRE</Tx>
    <Mark x={1760} y={1622} kind="d" r={8}/><Tx x={1786} y={1622}>translocation (TRA)</Tx>
    <Mark x={1760} y={1643} kind="v" r={7.5}/><Tx x={1786} y={1643}>deletion (DEL)</Tx>
    <Mark x={1760} y={1665} kind="o" r={8}/><Tx x={1786} y={1665}>No alteration detected</Tx>
  </>;
}

function PanelF(){
  const arcs:any[]=[];
  loopEndsKb.forEach((e,i)=>{
    const mid=(e+loopAnchorKb)/2,half=(loopAnchorKb-e)/2,h=loopHeights[i];
    for(let a=0;a<=180;a+=6){const rad=a*Math.PI/180;arcs.push({x:mid-half*Math.cos(rad),y:h*Math.pow(Math.sin(rad),.72)});}
    arcs.push(gapPt);
  });
  const f300=[6900,7050,7200,7350,7500,7650,7800,7950];
  const tc=(ctx:any)=>ctx.tick&&(ctx.tick.value-6900)%300===0?DARK:"transparent";
  const X={min:6868.3,max:8092};
  const kb=(v:number)=>(v-6900)%300===0?String(v*1000):"";
  const sites=[floatH([{x:fmreSite,y:0}],"#EC2A35",49),floatH(otherSites.map(s=>({x:s,y:0})),"#A3A6A8",49)];
  const genesSets=[
    floatH([{x:tp53Gene,y:tp53Lane}],"#2A4B9B",11),
    floatH(geneStart.map((s,i)=>({x:[s,geneEnd[i]],y:geneLane[i]})),"#000",6),
    floatH(otherGeneStart.map((s,i)=>({x:[s,otherGeneEnd[i]],y:otherGeneLane[i]})),"#A9ACAD",6),
  ];
  return <>
    <Letter x={803} y={1475} s={100} ch="f"/>
    <Plot rect={[917,1416,1496,1532]} m={[4,2,2,8]} datasets={[{type:"scatter",showLine:true,data:arcs,borderColor:"#333",borderWidth:1.6,pointRadius:0}]}
      x={{...X,vals:[6900,7200,7500,7800],tick:4}}
      y={{min:-9.3,max:106.7,vals:[]}}/>
    <Tx x={871.5} y={1472} a="c" rot={-90}>Chromatin</Tx>
    <Tx x={896} y={1472} a="c" rot={-90}>interactions</Tx>
    <Plot rect={[917,1543,1496,1595]} m={[2,2,2,8]} plugins={[frame()]} datasets={sites}
      x={{...X,vals:f300,tick:4,grid:"#e2e2e2",tickColor:tc}} y={{min:-1,max:1,vals:[]}}/>
    <Tx x={910.5} y={1576.7} a="r">FMRE</Tx>
    <Plot rect={[917,1607,1496,1659]} m={[40,20,2,36]} plugins={[frame()]} datasets={genesSets}
      x={{...X,vals:f300,tick:0,pad:6,off:7,grid:"#e2e2e2",label:kb}} y={{min:0,max:52,reverse:true,vals:[]}}/>
    <Tx x={1262} y={1618} i s={20}>TP53 {"<"}</Tx>
    <Tx x={910.5} y={1631.7} a="r">Genes</Tx>
    <Sq x0={1532} y0={1546} x1={1552} y1={1566.7} c="#EC2A35" b="#111"/><Tx x={1562} y={1556.7}>FMRE</Tx>
    <Sq x0={1532} y0={1571.7} x1={1552} y1={1591.7} c="#A3A6A8" b="#111"/><Tx x={1562} y={1583}>other site</Tx>
    <Sq x0={1532} y0={1611.7} x1={1552} y1={1632} c="#2A4B9B" b="#111"/><Tx x={1562} y={1622.7} i>TP53</Tx>
    <Sq x0={1532} y0={1637.3} x1={1552} y1={1658} c="#C9CCCB" b="#111"/><Tx x={1562} y={1650}>other gene</Tx>
  </>;
}

export default function App(){
  return <div style={{position:"absolute",left:0,top:0,width:1998,height:1726,background:"#fff",overflow:"hidden",fontFamily:FONT}}>
    <PanelA/><PanelB/><PanelC/><PanelD/><PanelE/><PanelF/>
  </div>;
}
